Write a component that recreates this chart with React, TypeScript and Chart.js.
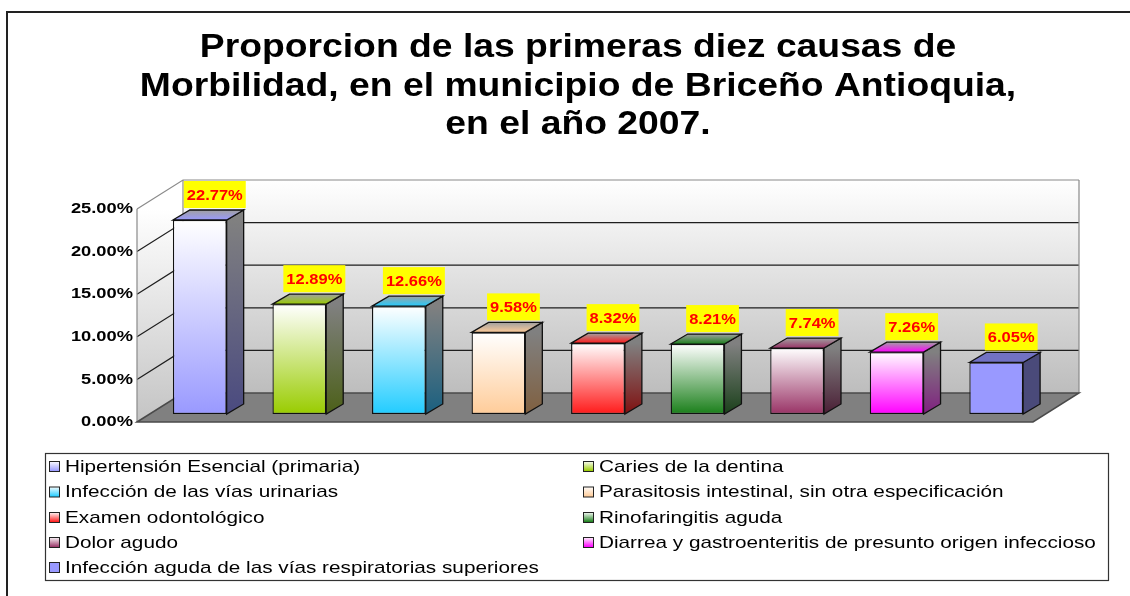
import React, { useEffect, useRef } from "react";
import { Chart, registerables } from "chart.js";
Chart.register(...registerables);

const TITLE_LINES = [
  "Proporcion de las primeras diez causas de",
  "Morbilidad, en el municipio de Briceño Antioquia,",
  "en el año 2007.",
];
const CATEGORIES = [
  "Hipertensión Esencial (primaria)",
  "Caries de la dentina",
  "Infección de las vías urinarias",
  "Parasitosis intestinal, sin otra especificación",
  "Examen odontológico",
  "Rinofaringitis aguda",
  "Dolor agudo",
  "Diarrea y gastroenteritis de presunto origen infeccioso",
  "Infección aguda de las vías respiratorias superiores",
];
const VALUES = [22.77, 12.89, 12.66, 9.58, 8.32, 8.21, 7.74, 7.26, 6.05];
const Y_TICKS = [0, 5, 10, 15, 20, 25];
const BAR_COLORS = ["#9999ff", "#99cc00", "#22ccff", "#ffcc99", "#ff1a1a", "#1a7f1a", "#993366", "#ff00ff", "#9999ff"];
const SIDE_COLORS = ["#4a4a80", "#4c6018", "#1a6080", "#806040", "#801010", "#1a401a", "#4a1e35", "#802080", "#4a4a7a"];
const SOLID = [false, false, false, false, false, false, false, false, true];

const FRONT = { dx: -13, dy: 8 };
const BACK = { dx: 33, dy: -21 };
const BAR_D = { dx: 17, dy: -10 };

function sText(ctx: CanvasRenderingContext2D, text: string, x: number, y: number, sx: number, align: CanvasTextAlign) {
  ctx.save();
  ctx.translate(x, y);
  ctx.scale(sx, 1);
  ctx.textAlign = align;
  ctx.fillText(text, 0, 0);
  ctx.restore();
}

function poly(ctx: CanvasRenderingContext2D, pts: number[][]) {
  ctx.beginPath();
  ctx.moveTo(pts[0][0], pts[0][1]);
  for (let i = 1; i < pts.length; i++) ctx.lineTo(pts[i][0], pts[i][1]);
  ctx.closePath();
}

const threeD = {
  id: "threeD",
  beforeDraw(chart: any) {
    const ctx = chart.ctx as CanvasRenderingContext2D;
    ctx.save();
    ctx.fillStyle = "#ffffff";
    ctx.fillRect(0, 0, chart.width, chart.height);
    ctx.strokeStyle = "#222";
    ctx.lineWidth = 2;
    ctx.beginPath();
    ctx.moveTo(7, chart.height + 2);
    ctx.lineTo(7, 12);
    ctx.lineTo(chart.width + 2, 12);
    ctx.stroke();
    ctx.fillStyle = "#000";
    ctx.font = "bold 33px 'Liberation Sans', Arial, sans-serif";
    ctx.textBaseline = "alphabetic";
    const tb = [57, 96, 134];
    TITLE_LINES.forEach((t, i) => sText(ctx, t, 578, tb[i], 1.13, "center"));
    ctx.restore();
  },
  beforeDatasetsDraw(chart: any) {
    const ctx = chart.ctx as CanvasRenderingContext2D;
    const y = chart.scales.y;
    const { left: L, right: R } = chart.chartArea;
    const B = y.getPixelForValue(0);
    const T = y.getPixelForValue(Y_TICKS[Y_TICKS.length - 1]);
    ctx.save();
    const bg = ctx.createLinearGradient(0, T + BACK.dy, 0, B + BACK.dy);
    bg.addColorStop(0, "#ffffff");
    bg.addColorStop(1, "#bdbdbd");
    ctx.fillStyle = bg;
    ctx.fillRect(L + BACK.dx, T + BACK.dy, R - L, B - T);
    const lg = ctx.createLinearGradient(0, T + FRONT.dy, 0, B + FRONT.dy);
    lg.addColorStop(0, "#ffffff");
    lg.addColorStop(1, "#c4c4c4");
    ctx.fillStyle = lg;
    poly(ctx, [
      [L + FRONT.dx, B + FRONT.dy],
      [L + FRONT.dx, T + FRONT.dy],
      [L + BACK.dx, T + BACK.dy],
      [L + BACK.dx, B + BACK.dy],
    ]);
    ctx.fill();
    ctx.lineWidth = 1.2;
    Y_TICKS.forEach((v, i) => {
      if (v === 0) return;
      const py = y.getPixelForValue(v);
      ctx.strokeStyle = i === Y_TICKS.length - 1 ? "#8a8a8a" : "#1e1e1e";
      ctx.beginPath();
      ctx.moveTo(L + FRONT.dx, py + FRONT.dy);
      ctx.lineTo(L + BACK.dx, py + BACK.dy);
      ctx.lineTo(R + BACK.dx, py + BACK.dy);
      ctx.stroke();
    });
    ctx.strokeStyle = "#8a8a8a";
    ctx.beginPath();
    ctx.moveTo(L + FRONT.dx, B + FRONT.dy);
    ctx.lineTo(L + FRONT.dx, T + FRONT.dy);
    ctx.moveTo(L + BACK.dx, T + BACK.dy);
    ctx.lineTo(L + BACK.dx, B + BACK.dy);
    ctx.moveTo(R + BACK.dx, T + BACK.dy);
    ctx.lineTo(R + BACK.dx, B + BACK.dy);
    ctx.stroke();
    ctx.fillStyle = "#808080";
    poly(ctx, [
      [L + FRONT.dx, B + FRONT.dy],
      [L + BACK.dx, B + BACK.dy],
      [R + BACK.dx, B + BACK.dy],
      [R + FRONT.dx, B + FRONT.dy],
    ]);
    ctx.fill();
    ctx.strokeStyle = "#4a4a4a";
    ctx.lineWidth = 1.5;
    ctx.stroke();
    ctx.fillStyle = "#000";
    ctx.font = "bold 15px 'Liberation Sans', Arial, sans-serif";
    ctx.textBaseline = "middle";
    Y_TICKS.forEach((v) => {
      const py = y.getPixelForValue(v) + FRONT.dy;
      sText(ctx, v.toFixed(2) + "%", L + FRONT.dx - 4, py, 1.22, "right");
    });
    ctx.restore();
  },
  afterDatasetsDraw(chart: any) {
    const ctx = chart.ctx as CanvasRenderingContext2D;
    const meta = chart.getDatasetMeta(0);
    ctx.save();
    meta.data.forEach((el: any, i: number) => {
      const p = el.getProps(["x", "y", "base", "width"], true);
      const l = p.x - p.width / 2;
      const r = p.x + p.width / 2;
      const top = p.y;
      const base = p.base;
      let sg: any;
      if (SOLID[i]) sg = SIDE_COLORS[i];
      else {
        sg = ctx.createLinearGradient(0, top, 0, base);
        sg.addColorStop(0, "#808080");
        sg.addColorStop(1, SIDE_COLORS[i]);
      }
      ctx.fillStyle = sg;
      poly(ctx, [
        [r, top],
        [r + BAR_D.dx, top + BAR_D.dy],
        [r + BAR_D.dx, base + BAR_D.dy],
        [r, base],
      ]);
      ctx.fill();
      ctx.strokeStyle = "#111";
      ctx.lineWidth = 1.3;
      ctx.stroke();
      let tg: any;
      if (SOLID[i]) tg = "#7272c4";
      else {
        tg = ctx.createLinearGradient(0, top + BAR_D.dy, 0, top);
        tg.addColorStop(0, "#a0a0a0");
        tg.addColorStop(1, BAR_COLORS[i]);
      }
      ctx.fillStyle = tg;
      poly(ctx, [
        [l, top],
        [l + BAR_D.dx, top + BAR_D.dy],
        [r + BAR_D.dx, top + BAR_D.dy],
        [r, top],
      ]);
      ctx.fill();
      ctx.stroke();
      const txt = VALUES[i].toFixed(2) + "%";
      ctx.font = "bold 15px 'Liberation Sans', Arial, sans-serif";
      const sx = 1.1;
      const w = ctx.measureText(txt).width * sx + 6;
      const h = 27;
      const cx = p.x + 15;
      const bottom = top + BAR_D.dy - 2;
      ctx.fillStyle = "#ffff00";
      ctx.fillRect(cx - w / 2, bottom - h, w, h);
      ctx.fillStyle = "#ff0000";
      ctx.textBaseline = "middle";
      sText(ctx, txt, cx, bottom - h / 2 + 1, sx, "center");
    });
    ctx.restore();
  },
  afterDraw(chart: any) {
    const ctx = chart.ctx as CanvasRenderingContext2D;
    ctx.save();
    ctx.fillStyle = "#fff";
    ctx.fillRect(45.5, 453.5, 1063, 127);
    ctx.strokeStyle = "#333";
    ctx.lineWidth = 1.2;
    ctx.strokeRect(45.5, 453.5, 1063, 127);
    ctx.font = "17px 'Liberation Sans', Arial, sans-serif";
    ctx.textBaseline = "middle";
    const colX = [49, 583];
    const rowY = [466, 491.5, 517, 542, 567];
    CATEGORIES.forEach((c, i) => {
      const x = colX[i % 2];
      const yy = rowY[Math.floor(i / 2)];
      let g: any;
      if (SOLID[i]) g = BAR_COLORS[i];
      else {
        g = ctx.createLinearGradient(0, yy - 5, 0, yy + 5);
        g.addColorStop(0, "#ffffff");
        g.addColorStop(1, BAR_COLORS[i]);
      }
      ctx.fillStyle = g;
      ctx.fillRect(x + 0.5, yy - 4.5, 10, 10);
      ctx.strokeStyle = "#222";
      ctx.lineWidth = 1;
      ctx.strokeRect(x + 0.5, yy - 4.5, 10, 10);
      ctx.fillStyle = "#000";
      sText(ctx, c, x + 16, yy + 1, 1.22, "left");
    });
    ctx.restore();
  },
};

export default function App() {
  const ref = useRef<HTMLCanvasElement | null>(null);
  useEffect(() => {
    if (!ref.current) return;
    const chart = new Chart(ref.current, {
      type: "bar",
      data: {
        labels: CATEGORIES,
        datasets: [
          {
            data: VALUES,
            backgroundColor: (c: any) => {
              const i = c.dataIndex;
              const ch = c.chart;
              if (SOLID[i] || !ch.chartArea || !ch.scales.y) return BAR_COLORS[i];
              const ys = ch.scales.y;
              const g = ch.ctx.createLinearGradient(0, ys.getPixelForValue(VALUES[i]), 0, ys.getPixelForValue(0));
              g.addColorStop(0, "#ffffff");
              g.addColorStop(1, BAR_COLORS[i]);
              return g;
            },
            borderColor: "#111",
            borderWidth: 1.3,
            borderSkipped: false,
            barPercentage: 0.54,
            categoryPercentage: 1,
          },
        ],
      },
      options: {
        responsive: false,
        animation: false,
        devicePixelRatio: 1,
        layout: { padding: { left: 150, right: 84, top: 201, bottom: 182 } },
        plugins: { legend: { display: false }, title: { display: false }, tooltip: { enabled: false } },
        scales: {
          x: { display: false },
          y: { display: false, min: 0, max: 25 },
        },
      },
      plugins: [threeD],
    });
    return () => chart.destroy();
  }, []);
  return (
    <canvas
      ref={ref}
      width={1130}
      height={596}
      style={{ position: "fixed", left: 0, top: 0, display: "block" }}
    />
  );
}
